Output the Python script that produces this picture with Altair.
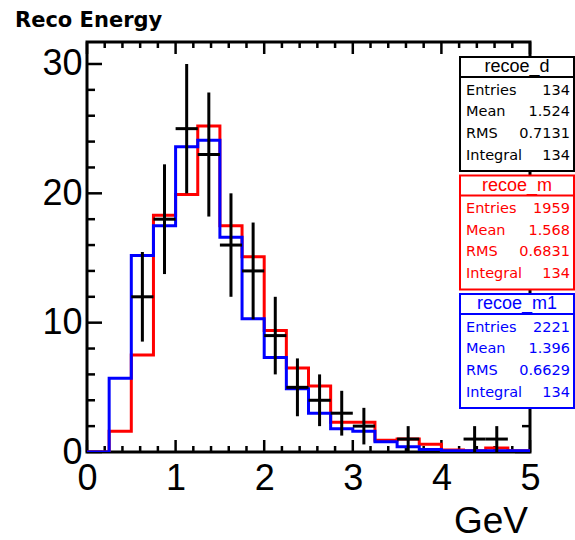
import altair as alt
import pandas as pd
import numpy as np

# Bin edges of the reconstructed-energy histograms (GeV): 20 bins of 0.25
edges = [0.0, 0.25, 0.5, 0.75, 1.0, 1.25, 1.5, 1.75, 2.0, 2.25, 2.5,
         2.75, 3.0, 3.25, 3.5, 3.75, 4.0, 4.25, 4.5, 4.75, 5.0]

# Data: counts per bin
recoe_d = [0, 0, 12, 18, 25, 23, 16, 14, 9, 5, 4, 3, 2, 0, 1, 0, 0, 1, 1, 0]
# Simulation templates, normalised to the data integral
recoe_m = [0.0, 1.6, 7.5, 18.3, 19.9, 25.2, 17.5, 15.1, 9.4, 6.5, 5.1,
           2.3, 2.3, 0.9, 1.0, 0.6, 0.15, 0.1, 0.3, 0.1]
recoe_m1 = [0.0, 5.7, 15.2, 17.5, 23.6, 24.1, 16.6, 10.3, 7.3, 4.9, 3.0,
            1.8, 1.6, 0.8, 0.4, 0.2, 0.1, 0.1, 0.1, 0.1]

# Statistics boxes
box_names = ["recoe_d", "recoe_m", "recoe_m1"]
box_colors = ["black", "red", "blue"]
stat_labels = ["Entries", "Mean", "RMS", "Integral"]
stat_entries = ["134", "1959", "2221"]
stat_means = ["1.524", "1.568", "1.396"]
stat_rms = ["0.7131", "0.6831", "0.6629"]
stat_integrals = ["134", "134", "134"]

# Axis labels and tick marks
x_labels = [0, 1, 2, 3, 4, 5]
y_labels = [0, 10, 20, 30]
x_minor = [round(m + k * 0.2, 1) for m in range(5) for k in range(1, 5)]
y_minor = [v for v in range(2, 32, 2) if v % 10 != 0]

W, H = 443, 410
X_MAX, Y_MAX = 5.0, 31.7

AXIS_FONT = "Liberation Sans"
BOX_FONT = "DejaVu Sans"

x_axis = alt.Axis(values=x_labels, format="d", labelFont=AXIS_FONT, labelFontSize=36,
                  labelColor="black", labelPadding=9, labelFlush=False,
                  labelOverlap=False, ticks=False, domain=False, grid=False)
y_axis = alt.Axis(values=y_labels, format="d", labelFont=AXIS_FONT, labelFontSize=36,
                  labelColor="black", labelPadding=5, labelFlush=False,
                  labelOverlap=False, ticks=False, domain=False, grid=False)
x_scale = alt.Scale(domain=[0, X_MAX], nice=False, zero=False)
y_scale = alt.Scale(domain=[0, Y_MAX], nice=False, zero=False)


def X(field):
    return alt.X(field, type="quantitative", scale=x_scale, axis=x_axis, title="")


def Y(field):
    return alt.Y(field, type="quantitative", scale=y_scale, axis=y_axis, title="")


def step_hist(values, color):
    df = pd.DataFrame({"e": edges, "n": values + [values[-1]]})
    return alt.Chart(df).mark_line(interpolate="step-after", color=color,
                                   strokeWidth=3, clip=True).encode(x=X("e"), y=Y("n"))


# Inward-pointing tick marks on all four sides of the frame
def yticks(vals, length):
    df = pd.DataFrame({"v": vals})
    left = alt.Chart(df).mark_rule(color="black", strokeWidth=2.5).encode(
        y=Y("v"), x=alt.value(0), x2=alt.value(length))
    right = alt.Chart(df).mark_rule(color="black", strokeWidth=2.5).encode(
        y=Y("v"), x=alt.value(W), x2=alt.value(W - length))
    return [left, right]


def xticks(vals, length):
    df = pd.DataFrame({"v": vals})
    bottom = alt.Chart(df).mark_rule(color="black", strokeWidth=2.5).encode(
        x=X("v"), y=alt.value(H), y2=alt.value(H - length))
    top = alt.Chart(df).mark_rule(color="black", strokeWidth=2.5).encode(
        x=X("v"), y=alt.value(0), y2=alt.value(length))
    return [bottom, top]


layers = []
layers += yticks(y_labels, 15) + yticks(y_minor, 8)
layers += xticks(x_labels, 12) + xticks(x_minor, 6)

layers.append(step_hist(recoe_m, "red"))
layers.append(step_hist(recoe_m1, "blue"))

# Data points with Poisson errors and bin-width horizontal bars
pts = pd.DataFrame({
    "lo_e": edges[:-1],
    "hi_e": edges[1:],
    "n": recoe_d,
})
pts = pts[pts["n"] > 0].copy()
pts["c"] = (pts["lo_e"] + pts["hi_e"]) / 2
pts["lo"] = pts["n"] - np.sqrt(pts["n"])
pts["hi"] = pts["n"] + np.sqrt(pts["n"])

layers.append(alt.Chart(pts).mark_rule(color="black", strokeWidth=3).encode(
    x=X("c"), y=Y("lo"), y2=alt.Y2("hi")))
layers.append(alt.Chart(pts).mark_rule(color="black", strokeWidth=3).encode(
    x=X("lo_e"), x2=alt.X2("hi_e"), y=Y("n")))

# Statistics boxes on the right edge
BOX_L, BOX_R = 373, 487
BOX_H, TITLE_H, BOX_STEP = 114, 20, 118.5
ROW_H = 21.7
one = pd.DataFrame({"k": [0]})
for i, name in enumerate(box_names):
    col = box_colors[i]
    top = 15 + i * BOX_STEP
    layers.append(alt.Chart(one).mark_rect(fill="white", stroke=col, strokeWidth=2).encode(
        x=alt.value(BOX_L), x2=alt.value(BOX_R), y=alt.value(top), y2=alt.value(top + BOX_H)))
    layers.append(alt.Chart(one).mark_rule(color=col, strokeWidth=2).encode(
        x=alt.value(BOX_L), x2=alt.value(BOX_R), y=alt.value(top + TITLE_H)))
    layers.append(alt.Chart(pd.DataFrame({"t": [name]})).mark_text(
        font=AXIS_FONT, fontSize=18, color=col, align="center", baseline="alphabetic").encode(
        x=alt.value((BOX_L + BOX_R) / 2), y=alt.value(top + 15), text="t:N"))
    values = [stat_entries[i], stat_means[i], stat_rms[i], stat_integrals[i]]
    txt = pd.DataFrame({"a": ["\n".join(stat_labels)], "b": ["\n".join(values)]})
    layers.append(alt.Chart(txt).mark_text(
        font=BOX_FONT, fontSize=14.5, color=col, align="left", baseline="middle",
        lineBreak="\n", lineHeight=ROW_H).encode(
        x=alt.value(BOX_L + 6), y=alt.value(top + 33.5), text="a:N"))
    layers.append(alt.Chart(txt).mark_text(
        font=BOX_FONT, fontSize=14.5, color=col, align="right", baseline="middle",
        lineBreak="\n", lineHeight=ROW_H).encode(
        x=alt.value(BOX_R - 4), y=alt.value(top + 33.5), text="b:N"))

# Titles
layers.append(alt.Chart(pd.DataFrame({"t": ["Reco Energy"]})).mark_text(
    font=BOX_FONT, fontWeight="bold", fontSize=21, color="black",
    align="left", baseline="alphabetic").encode(
    x=alt.value(-72), y=alt.value(-15), text="t:N"))
layers.append(alt.Chart(pd.DataFrame({"t": ["GeV"]})).mark_text(
    font=AXIS_FONT, fontSize=37, color="black",
    align="right", baseline="alphabetic").encode(
    x=alt.value(441), y=alt.value(491), text="t:N"))

chart = alt.layer(*layers).properties(
    width=W, height=H,
    autosize=alt.AutoSizeParams(type="none"),
    padding={"left": 87, "top": 42, "right": 45, "bottom": 88},
    background="white",
).configure_view(stroke="black", strokeWidth=3)

chart.save("out.html", embed_options={"renderer": "svg", "actions": False})
